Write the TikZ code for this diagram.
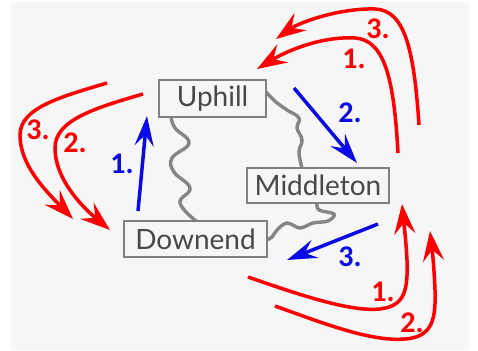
\documentclass[tikz,border=0pt]{standalone}
\usepackage{fontspec}
\setmainfont{Lato}
\newfontfamily\numfont{Carlito}
\usetikzlibrary{arrows.meta}
\definecolor{bg}{HTML}{F6F6F6}
\definecolor{boxline}{HTML}{808080}
\definecolor{boxtext}{HTML}{484848}
\definecolor{wave}{HTML}{858585}
\definecolor{myred}{HTML}{FF0000}
\definecolor{myblue}{HTML}{0A0AE6}
\tikzset{
  place/.style={draw=boxline, line width=2.2pt, fill=bg, inner sep=0pt, text=boxtext, font=\fontsize{28}{28}\selectfont},
  wavy/.style={draw=wave, line width=3.4pt},
  redarrow/.style={draw=myred, line width=3.5pt, -{Stealth[length=30pt,width=21pt,inset=11pt]}},
  bluearrow/.style={draw=myblue, line width=3.5pt, -{Stealth[length=30pt,width=19pt,inset=11pt]}},
  redlbl/.style={text=myred, font=\numfont\bfseries\fontsize{30}{30}\selectfont, inner sep=0pt},
  bluelbl/.style={text=myblue, font=\numfont\bfseries\fontsize{30}{30}\selectfont, inner sep=0pt},
}
\begin{document}
\begin{tikzpicture}[x=1pt,y=-1pt]
\useasboundingbox (0,0) rectangle (478,350);
\fill[white] (0,0) rectangle (478,350);
\fill[bg] (11,2) rectangle (469,350);

% waves (drawn first, under boxes)
\coordinate (w1s) at (171,117);
\coordinate (w1e) at (196,221);
\coordinate (w2s) at (266,92);
\coordinate (w2e) at (302,168);
\coordinate (w3s) at (317,203);
\coordinate (w3e) at (267,240);
\draw[wavy] plot[smooth, tension=0.7] coordinates {(w1s) (175,128) (189,143) (172,158) (174,172) (190,188) (180,203) (196,221)};
\draw[wavy] plot[smooth, tension=0.7] coordinates {(w2s) (277,103) (287,110) (299,118) (297,128) (302,140) (299,152) (w2e)};
\draw[wavy] plot[smooth, tension=0.6] coordinates {(w3s) (319,210) (334,214) (328,221) (313,223) (300,228) (287,223) (277,230) (272,237) (w3e)};

\node[place, minimum width=107pt, minimum height=37pt] (up) at (212.5,98.5) {Uphill};
\node[place, minimum width=142pt, minimum height=35pt] (mid) at (318,185.5) {Middleton};
\node[place, minimum width=143pt, minimum height=36pt] (down) at (195.5,239) {Downend};

% blue arrows
\coordinate (b1s) at (138,211); \coordinate (b1e) at (147,116);
\coordinate (b2s) at (294,88);  \coordinate (b2e) at (357,163);
\coordinate (b3s) at (378,224); \coordinate (b3e) at (287,260);
\draw[bluearrow] (b1s) -- (b1e);
\draw[bluearrow] (b2s) -- (b2e);
\draw[bluearrow] (b3s) -- (b3e);
\node[bluelbl] (l1) at (122,164) {1.};
\node[bluelbl] (l2) at (350,113) {2.};
\node[bluelbl] (l3) at (350,257) {3.};

% red arrows top
\coordinate (rt1s) at (398,153); \coordinate (rt1e) at (257,69);
\draw[redarrow] (rt1s) .. controls (394,80) and (385,40) .. (355,38) .. controls (320,36) and (285,52) .. (rt1e);
\coordinate (rt3s) at (419,125); \coordinate (rt3e) at (276,39);
\draw[redarrow] (rt3s) .. controls (414,50) and (405,10) .. (375,9) .. controls (340,8) and (300,22) .. (rt3e);
% red arrows left
\coordinate (rl3s) at (107,83); \coordinate (rl3e) at (73,219);
\draw[redarrow] (rl3s) .. controls (60,97) and (20,108) .. (20,135) .. controls (20,165) and (45,190) .. (rl3e);
\coordinate (rl2s) at (143,94); \coordinate (rl2e) at (110,230);
\draw[redarrow] (rl2s) .. controls (95,108) and (55,120) .. (55,148) .. controls (55,178) and (80,205) .. (rl2e);
% red arrows bottom
\coordinate (rb1s) at (248,277); \coordinate (rb1e) at (402,204);
\draw[redarrow] (rb1s) .. controls (300,295) and (350,312) .. (380,309) .. controls (405,306) and (408,290) .. (407,260) .. controls (406,240) and (404,225) .. (rb1e);
\coordinate (rb2s) at (275,306); \coordinate (rb2e) at (430,231);
\draw[redarrow] (rb2s) .. controls (320,322) and (370,342) .. (405,339) .. controls (432,337) and (436,320) .. (435,290) .. controls (434,265) and (432,248) .. (rb2e);

\node[redlbl] (r3t) at (378,29) {3.};
\node[redlbl] (r1t) at (354,59) {1.};
\node[redlbl] (r3l) at (38,130) {3.};
\node[redlbl] (r2l) at (75,143) {2.};
\node[redlbl] (r1b) at (383,292) {1.};
\node[redlbl] (r2b) at (412,323) {2.};
\end{tikzpicture}
\end{document}
